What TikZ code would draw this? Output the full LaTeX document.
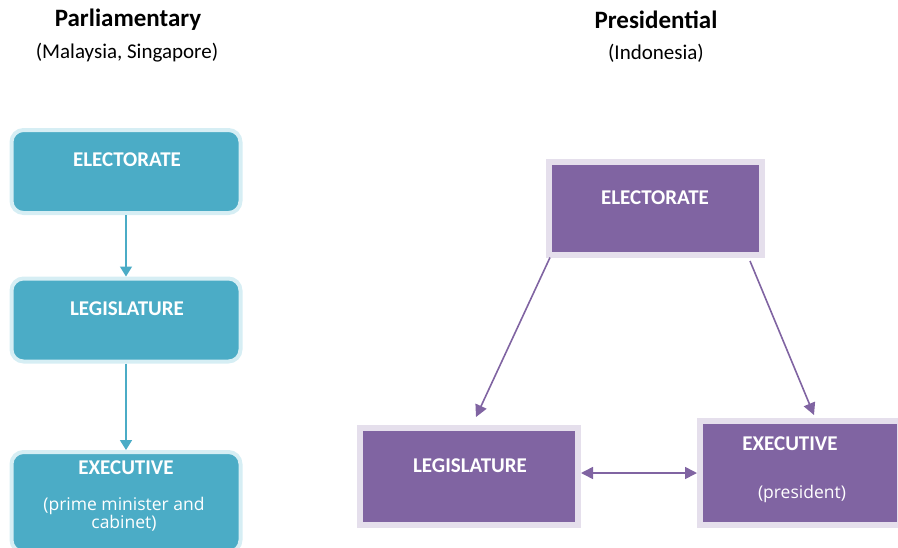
\documentclass[tikz,border=0pt]{standalone}
\usepackage{fontspec}
\setmainfont{Carlito}
\newfontfamily\notefont{Open Sans}
\usetikzlibrary{arrows.meta}

\definecolor{aqua}{HTML}{4BACC6}
\definecolor{aqualight}{HTML}{D6EEF4}
\definecolor{plum}{HTML}{8064A2}
\definecolor{plumlight}{HTML}{E5DFEC}

\begin{document}
\begin{tikzpicture}[x=1pt,y=-1pt]
      \tikzset{parlbox/.style={fill=aqua,draw=aqualight,line width=4pt,
          rounded corners=12pt,minimum width=229pt,minimum height=83pt,inner sep=0pt},
        presbox/.style={fill=plum,draw=plumlight,line width=6pt,inner sep=0pt},
        boxtext/.style={text=white,font=\fontsize{21}{24}\selectfont\bfseries},
        notetext/.style={text=white,font=\notefont\fontsize{17.5}{17}\selectfont,align=center},
        title/.style={font=\fontsize{25}{28}\selectfont\bfseries},
        subtitle/.style={font=\fontsize{21}{24}\selectfont},
        parlarrow/.style={draw=aqua,line width=1.6pt,-{Triangle[length=10pt,width=12pt]}},
        prestip/.tip={Triangle[length=12pt,width=12pt]},
        presarrow/.style={draw=plum,line width=1.6pt,-prestip}
      }
      \useasboundingbox (0,0) rectangle (898,547);

      % parliamentary
      \node [title] (ptitle) at (128,20) {Parliamentary};
      \node [subtitle] (psub) at (127,53) {(Malaysia, Singapore)};
      \node [parlbox] (pelect) at (126,171.5) {};
      \node [boxtext] (pelectT) at (127,160) {ELECTORATE};
      \node [parlbox] (plegis) at (126,320) {};
      \node [boxtext] (plegisT) at (127,309) {LEGISLATURE};
      \node [parlbox,minimum height=100pt] (pexec) at (126,502) {};
      \node [boxtext] (pexecT) at (126,468) {EXECUTIVE};
      \node [notetext] (pexecN) at (124,514) {(prime minister and\\cabinet)};
      \draw [parlarrow] (pelect) -- (plegis);
      \draw [parlarrow] (plegis) -- (pexec);

      % presidential
      \node [title] (rtitle) at (656,20) {Presidential};
      \node [subtitle] (rsub) at (656,53) {(Indonesia)};
      \node [presbox,minimum width=213pt,minimum height=93pt] (relect) at (655,208) {};
      \node [boxtext] (relectT) at (655,198) {ELECTORATE};
      \node [presbox,minimum width=218pt,minimum height=97pt] (rlegis) at (469,476.5) {};
      \node [boxtext] (rlegisT) at (470,466) {LEGISLATURE};
      \node [presbox,minimum width=200pt,minimum height=104pt] (rexec) at (800,473) {};
      \node [boxtext] (rexecT) at (790,444) {EXECUTIVE};
      \node [notetext] (rexecN) at (802,494) {(president)};
      \draw [presarrow] ([xshift=4.5pt]relect.south west) -- ([xshift=7pt,yshift=8pt]rlegis.north);
      \draw [presarrow] ([xshift=-14.5pt,yshift=-3.5pt]relect.south east) -- ([xshift=14pt,yshift=3pt]rexec.north);
      \draw [presarrow,prestip-prestip] (rlegis.east |- rexec.west) -- (rexec.west);
    \end{tikzpicture}
\end{document}
